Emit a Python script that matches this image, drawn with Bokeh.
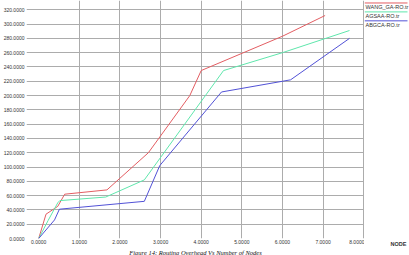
from bokeh.plotting import figure
from bokeh.layouts import row
from bokeh.models import Range1d, FixedTicker, Label, PrintfTickFormatter, Title
from bokeh.embed import file_html
from bokeh.resources import INLINE

# ---- data ----
series_names = ["WANG_GA-RO.tr", "AGSAA-RO.tr", "ABGCA-RO.tr"]
series_colors = ["#e35d62", "#5fe6ac", "#5252d6"]

wang_x = [0, 0.18, 0.47, 0.64, 1.68, 2.70, 3.72, 4.00, 6.00, 7.05]
wang_y = [0, 34, 45, 62, 68, 120, 200, 235, 283, 312]

agsaa_x = [0, 0.23, 0.47, 0.52, 1.65, 2.60, 4.55, 6.00, 7.65]
agsaa_y = [0, 25, 50, 53, 58, 82, 235, 260, 291]

abgca_x = [0, 0.39, 0.51, 2.60, 2.98, 4.50, 6.20, 7.65]
abgca_y = [0, 26, 41, 52, 102, 205, 222, 280]

x_ticks = [0, 1, 2, 3, 4, 5, 6, 7, 8]
y_ticks = [0, 20, 40, 60, 80, 100, 120, 140, 160, 180, 200, 220, 240, 260, 280, 300, 320]
x_axis_label = "NODE"
caption = "Figure 14: Routing Overhead Vs Number of Nodes"

xs = [wang_x, agsaa_x, abgca_x]
ys = [wang_y, agsaa_y, abgca_y]

GRID = "#acacac"
TXT = "#333333"

p = figure(width=364, height=255, output_backend="svg", toolbar_location=None,
           x_range=Range1d(-0.30, 8.02), y_range=Range1d(0, 333),
           min_border_left=0, min_border_right=0, min_border_top=0, min_border_bottom=0)
p.outline_line_color = None
p.background_fill_color = "white"
p.border_fill_color = "white"

for ax, ticks in ((p.xaxis, x_ticks), (p.yaxis, y_ticks)):
    ax.ticker = FixedTicker(ticks=ticks)
    ax.formatter = PrintfTickFormatter(format="%.4f")
    ax.axis_line_color = None
    ax.major_tick_line_color = None
    ax.minor_tick_line_color = None
    ax.major_tick_out = 0
    ax.major_tick_in = 0
    ax.minor_tick_out = 0
    ax.minor_tick_in = 0
    ax.major_label_text_font = "Liberation Sans"
    ax.major_label_text_font_size = "5px"
    ax.major_label_text_color = TXT
p.yaxis.major_label_standoff = 2
p.xaxis.major_label_standoff = 1

p.xgrid.ticker = FixedTicker(ticks=x_ticks[1:])
p.ygrid.ticker = FixedTicker(ticks=y_ticks)
p.xgrid.grid_line_color = GRID
p.ygrid.grid_line_color = GRID
p.xgrid.grid_line_width = 1
p.ygrid.grid_line_width = 1

for x, y, c in zip(xs, ys, series_colors):
    p.line(x, y, line_color=c, line_width=1)

p.add_layout(Title(text=caption, align="center", offset=22, standoff=0,
                   text_font="Liberation Serif", text_font_style="italic",
                   text_font_size="6.5px", text_color="#111111"), "below")

# ---- side panel with legend and axis name (data units = pixels) ----
s = figure(width=45, height=255, output_backend="svg", toolbar_location=None,
           x_range=Range1d(0, 45), y_range=Range1d(240, 0),
           x_axis_type=None, y_axis_type=None,
           min_border_left=0, min_border_right=0, min_border_top=0, min_border_bottom=0)
s.outline_line_color = None
s.xgrid.visible = False
s.ygrid.visible = False

for i, (name, c) in enumerate(zip(series_names, series_colors)):
    ty = 6.5 + 9 * i
    s.segment(x0=[0], y0=[ty - 4], x1=[43], y1=[ty - 4], line_color=c, line_width=1)
    s.add_layout(Label(x=1, y=ty, text=name, text_font="Liberation Sans",
                       text_font_size="5.5px", text_color=TXT, text_baseline="middle"))

s.add_layout(Title(text=x_axis_label, align="left", offset=26, standoff=0,
                   text_font="Liberation Sans", text_font_style="bold",
                   text_font_size="5.5px", text_color=TXT), "below")

layout = row(p, s, spacing=0)
open("out.html", "w").write(file_html(layout, INLINE))
